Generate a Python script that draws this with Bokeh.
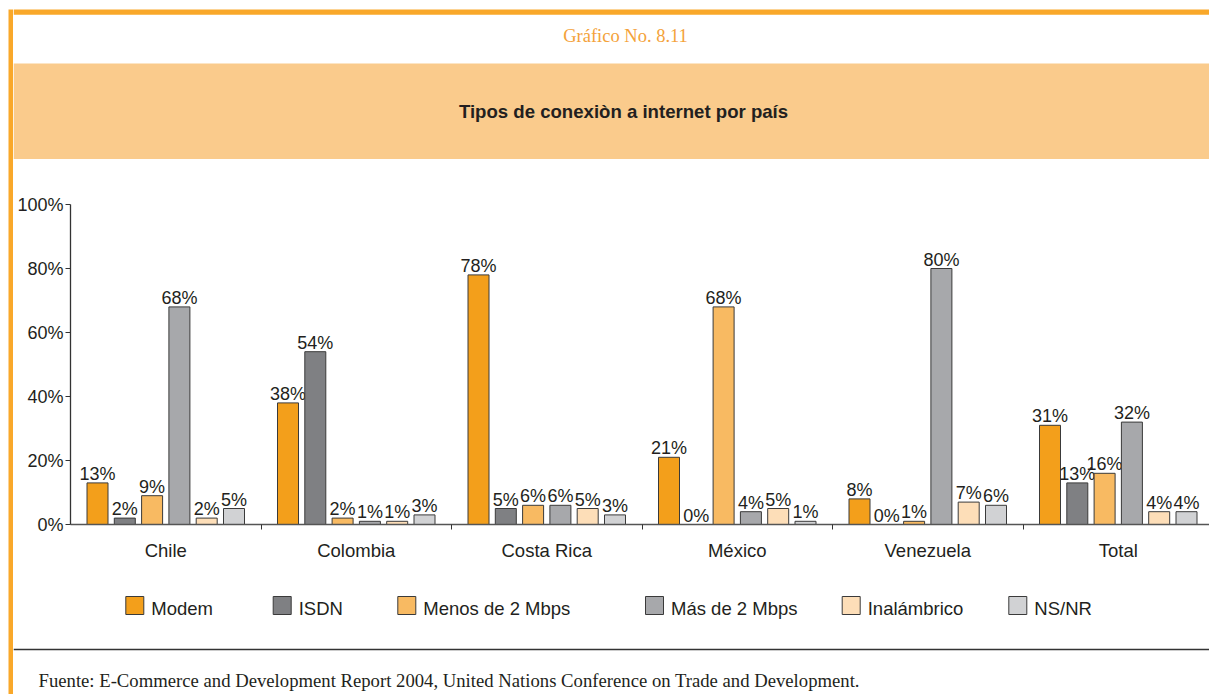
from bokeh.plotting import figure
from bokeh.layouts import row, column
from bokeh.models import Range1d, FixedTicker
from bokeh.core.properties import value
from bokeh.embed import file_html
from bokeh.resources import INLINE

# ---------------- data ----------------
categories = ["Chile", "Colombia", "Costa Rica", "México", "Venezuela", "Total"]
series = ["Modem", "ISDN", "Menos de 2 Mbps", "Más de 2 Mbps", "Inalámbrico", "NS/NR"]
modem = [13, 38, 78, 21, 8, 31]
isdn = [2, 54, 5, 0, 0, 13]
menos_2mbps = [9, 2, 6, 68, 1, 16]
mas_2mbps = [68, 1, 6, 4, 80, 32]
inalambrico = [2, 1, 5, 5, 7, 4]
ns_nr = [5, 3, 3, 1, 6, 4]
y_ticks = [0, 20, 40, 60, 80, 100]
y_tick_labels = ["0%", "20%", "40%", "60%", "80%", "100%"]

# ---------------- styles ----------------
colors = ["#F39F1B", "#7F8083", "#F8BA62", "#A7A8AB", "#FDDEB8", "#D1D2D4"]
ORANGE = "#F9A82A"
STRIP = "#FACB8C"
DARK = "#231F20"
SANS = "Liberation Sans"
SERIF = "Liberation Serif"
W, H = 1209, 694
LEFT = 13
pitch = 27.3 / 190.5
bar_w = 21.0 / 190.5
legend_x = [125.3, 272.7, 397.3, 645, 841.7, 1008.3]


def blank(w, h, x0, x1, y_top, y_bot):
    p = figure(width=w, height=h, x_range=Range1d(x0, x1), y_range=Range1d(y_bot, y_top),
               x_axis_type=None, y_axis_type=None, toolbar_location=None,
               min_border=0, output_backend="svg")
    p.frame_align = False
    p.outline_line_color = None
    p.background_fill_color = "white"
    p.border_fill_color = "white"
    return p


# left orange strip
strip = blank(LEFT, H, 0, LEFT, 0, H)
strip.quad(left=8, right=LEFT, top=9, bottom=H, fill_color=ORANGE, line_color=None)

# header
header = blank(W - LEFT, 180, LEFT, W, 0, 180)
header.quad(left=LEFT, right=W, top=9, bottom=14.3, fill_color=ORANGE, line_color=None)
header.quad(left=LEFT, right=W, top=63, bottom=158.5, fill_color=STRIP, line_color=None)
header.text(x=[625], y=[35], text=["Gráfico No. 8.11"], text_align="center",
            text_baseline="middle", text_font=value(SERIF), text_font_size="18.5px",
            text_color="#F4A23A")
header.text(x=[623], y=[111], text=["Tipos de conexiòn a internet por país"],
            text_align="center", text_baseline="middle", text_font=value(SANS),
            text_font_size="18.6px", text_font_style="bold", text_color=DARK)

# chart
cat_px = 190.5
frame_w = W - 70
p = figure(width=W - LEFT, height=390, x_range=Range1d(-0.5, -0.5 + frame_w / cat_px),
           y_range=Range1d(0, 100), min_border_left=70 - LEFT, min_border_right=0,
           min_border_top=24, min_border_bottom=46, toolbar_location=None,
           output_backend="svg")
p.frame_align = False
p.outline_line_color = None
p.xgrid.visible = False
p.ygrid.visible = False

all_vals = [modem, isdn, menos_2mbps, mas_2mbps, inalambrico, ns_nr]
for j, (name, vals) in enumerate(zip(series, all_vals)):
    xs = [i + (j - 2.5) * pitch for i in range(len(categories))]
    p.vbar(x=xs, top=vals, bottom=0, width=bar_w, fill_color=colors[j],
           line_color="#3A3A3A", line_width=1)
    p.text(x=xs, y=vals, text=[f"{v}%" for v in vals], text_align="center",
           text_baseline="alphabetic", y_offset=-9, text_font=value(SANS),
           text_font_size="18px", text_color=DARK)

yax = p.yaxis[0]
yax.ticker = FixedTicker(ticks=y_ticks)
yax.major_label_overrides = {t: l for t, l in zip(y_ticks, y_tick_labels)}
yax.major_tick_out = 5
yax.major_tick_in = 0
yax.minor_tick_line_color = None
yax.major_label_standoff = 2
yax.axis_line_color = "#333333"
yax.axis_line_width = 1.3
yax.major_tick_line_color = "#333333"
yax.major_label_text_font = SANS
yax.major_label_text_font_size = "18px"
yax.major_label_text_color = DARK

xax = p.xaxis[0]
xax.ticker = FixedTicker(ticks=list(range(len(categories))),
                         minor_ticks=[i + 0.5 for i in range(len(categories) - 1)])
xax.major_label_overrides = {i: c for i, c in enumerate(categories)}
xax.major_tick_line_color = None
xax.major_tick_out = 0
xax.major_tick_in = 0
xax.minor_tick_out = 5
xax.minor_tick_in = 0
xax.minor_tick_line_color = "#333333"
xax.major_label_standoff = 10
xax.axis_line_color = "#555555"
xax.axis_line_width = 1.5
xax.major_label_text_font = SANS
xax.major_label_text_font_size = "18.5px"
xax.major_label_text_color = DARK

# legend, rule, footer
bottom = blank(W - LEFT, H - 570, LEFT, W, 570, H)
for j, name in enumerate(series):
    lx = legend_x[j]
    bottom.quad(left=lx, right=lx + 18, top=596, bottom=614, fill_color=colors[j],
                line_color="#3A3A3A", line_width=1)
    bottom.text(x=[lx + 25.5], y=[607.5], text=[name], text_align="left",
                text_baseline="middle", text_font=value(SANS), text_font_size="18.5px",
                text_color=DARK)
bottom.segment(x0=[LEFT], x1=[W], y0=[649], y1=[649], line_color="#333333", line_width=1.5)
bottom.text(x=[38], y=[680],
            text=["Fuente: E-Commerce and Development Report 2004, United Nations Conference on Trade and Development."],
            text_align="left", text_baseline="middle", text_font=value(SERIF),
            text_font_size="18.7px", text_color=DARK)

layout = row(strip, column(header, p, bottom, spacing=0), spacing=0)
open("out.html", "w").write(file_html(layout, INLINE))
